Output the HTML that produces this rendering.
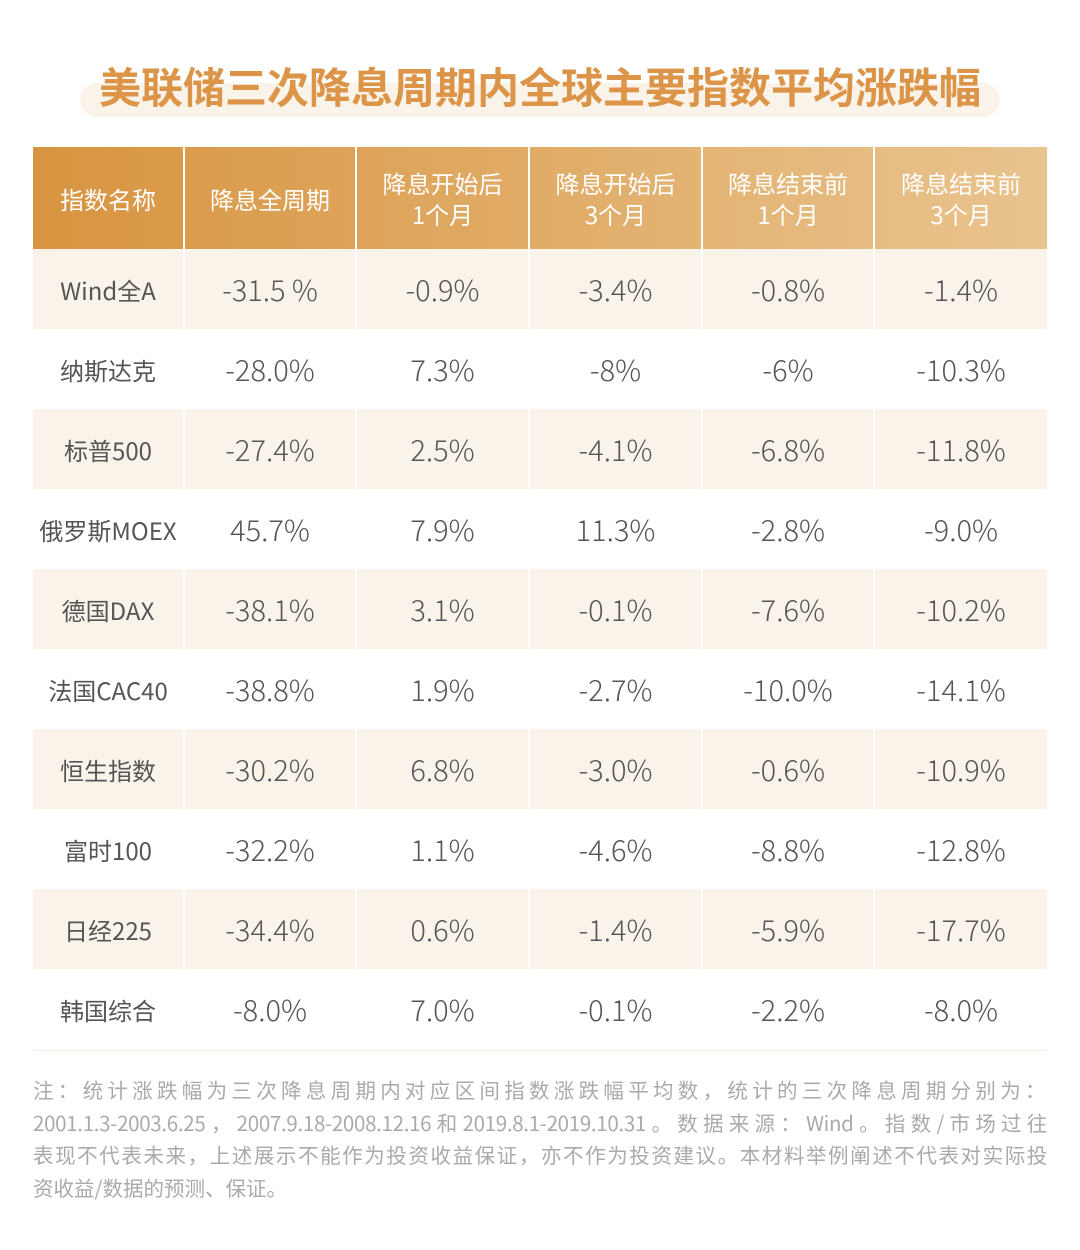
<!DOCTYPE html>
<html><head><meta charset="utf-8"><style>
*{margin:0;padding:0;box-sizing:border-box}
body{width:1080px;height:1250px;background:#fff;position:relative;overflow:hidden;font-family:"Noto Sans CJK SC","Liberation Sans",sans-serif}
.pill{position:absolute;left:80px;top:83px;width:920px;height:34px;border-radius:17px;background:#faf3ea}
.title{position:absolute;left:0;width:1080px;top:56px;text-align:center;font-size:42px;font-weight:bold;color:#dc9548;line-height:60px;letter-spacing:0}
table{position:absolute;left:33px;top:147px;border-collapse:collapse;width:1014px;table-layout:fixed}
th{height:102px;color:#fff;font-weight:400;font-size:24px;line-height:31px;border-right:2px solid #fff}
th:last-child,td:last-child{border-right:none}
thead tr{background:linear-gradient(90deg,#d89440,#e9c48f)}
td{height:80px;text-align:center;font-size:29px;font-weight:300;color:#555;border-right:2px solid #fff}
td:first-child{font-size:24px;font-weight:400}
tbody tr:nth-child(odd){background:#f9f3ea}
.line{position:absolute;left:33px;top:1050px;width:1014px;height:1px;background:#f7eee2}
.note{position:absolute;left:33px;top:1073px;width:1014px;font-size:20.5px;line-height:32.5px;color:#aaa}
.note div{text-align:justify;text-align-last:justify;white-space:nowrap;overflow:visible}
.note div.l{text-align-last:left}
</style></head><body>
<div class="pill"></div>
<div class="title">美联储三次降息周期内全球主要指数平均涨跌幅</div>
<table>
<colgroup><col style="width:151px"><col style="width:172px"><col style="width:173px"><col style="width:173px"><col style="width:172px"><col style="width:173px"></colgroup>
<thead><tr><th>指数名称</th><th>降息全周期</th><th>降息开始后<br>1个月</th><th>降息开始后<br>3个月</th><th>降息结束前<br>1个月</th><th>降息结束前<br>3个月</th></tr></thead>
<tbody>
<tr><td>Wind全A</td><td>-31.5 %</td><td>-0.9%</td><td>-3.4%</td><td>-0.8%</td><td>-1.4%</td></tr>
<tr><td>纳斯达克</td><td>-28.0%</td><td>7.3%</td><td>-8%</td><td>-6%</td><td>-10.3%</td></tr>
<tr><td>标普500</td><td>-27.4%</td><td>2.5%</td><td>-4.1%</td><td>-6.8%</td><td>-11.8%</td></tr>
<tr><td>俄罗斯MOEX</td><td>45.7%</td><td>7.9%</td><td>11.3%</td><td>-2.8%</td><td>-9.0%</td></tr>
<tr><td>德国DAX</td><td>-38.1%</td><td>3.1%</td><td>-0.1%</td><td>-7.6%</td><td>-10.2%</td></tr>
<tr><td>法国CAC40</td><td>-38.8%</td><td>1.9%</td><td>-2.7%</td><td>-10.0%</td><td>-14.1%</td></tr>
<tr><td>恒生指数</td><td>-30.2%</td><td>6.8%</td><td>-3.0%</td><td>-0.6%</td><td>-10.9%</td></tr>
<tr><td>富时100</td><td>-32.2%</td><td>1.1%</td><td>-4.6%</td><td>-8.8%</td><td>-12.8%</td></tr>
<tr><td>日经225</td><td>-34.4%</td><td>0.6%</td><td>-1.4%</td><td>-5.9%</td><td>-17.7%</td></tr>
<tr><td>韩国综合</td><td>-8.0%</td><td>7.0%</td><td>-0.1%</td><td>-2.2%</td><td>-8.0%</td></tr>
</tbody></table>
<div class="line"></div>
<div class="note">
<div style="letter-spacing:1.5px">注：统计涨跌幅为三次降息周期内对应区间指数涨跌幅平均数，统计的三次降息周期分别为：</div>
<div style="letter-spacing:-0.3px">2001.1.3-2003.6.25，2007.9.18-2008.12.16和2019.8.1-2019.10.31。数据来源：Wind。指数/市场过往</div>
<div style="letter-spacing:-0.3px">表现不代表未来，上述展示不能作为投资收益保证，亦不作为投资建议。本材料举例阐述不代表对实际投</div>
<div class="l">资收益/数据的预测、保证。</div>
</div>
</body></html>
